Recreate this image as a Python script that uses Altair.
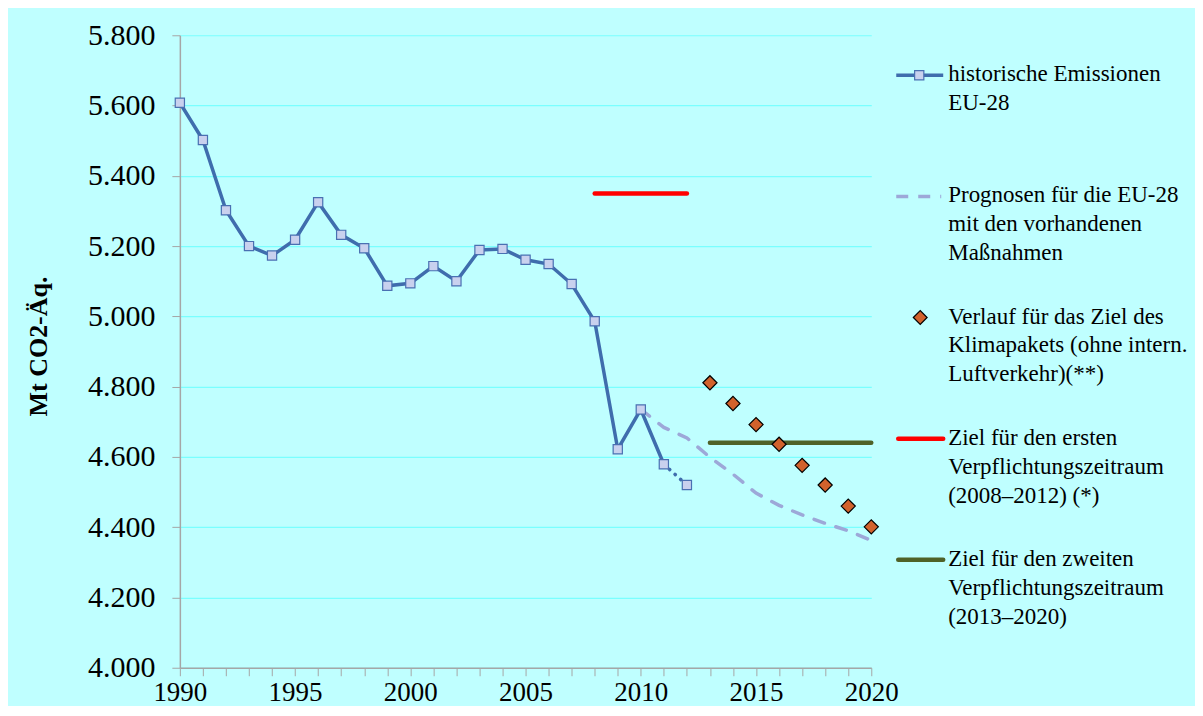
import altair as alt
import pandas as pd

# ---------------- data ----------------
hist_years = list(range(1990, 2013))
hist_values = [5608, 5502, 5302, 5200, 5173, 5218, 5325, 5232, 5194, 5087, 5094,
               5143, 5100, 5189, 5192, 5161, 5149, 5092, 4986, 4622, 4735, 4579, 4520]
hist_last_solid = 2011  # 2011-2012 drawn dotted (provisional)

proj_years = list(range(2010, 2021))
proj_values = [4735, 4684, 4654, 4599, 4551, 4497, 4462, 4435, 4411, 4390, 4362]

path_years = list(range(2013, 2021))
path_values = [4811, 4752, 4692, 4636, 4576, 4520, 4460, 4401]

target_names = ["erster", "zweiter"]
target_start = [2008, 2013]
target_end = [2012, 2020]
target_values = [5350, 4640]

legend_labels = [
    "historische Emissionen\nEU-28",
    "Prognosen für die EU-28\nmit den vorhandenen\nMaßnahmen",
    "Verlauf für das Ziel des\nKlimapakets (ohne intern.\nLuftverkehr)(**)",
    "Ziel für den ersten\nVerpflichtungszeitraum\n(2008–2012) (*)",
    "Ziel für den zweiten\nVerpflichtungszeitraum\n(2013–2020)",
]

y_ticks = list(range(4000, 5801, 200))
x_ticks = list(range(1990, 2021))

# ---------------- styling ----------------
FONT = "Liberation Serif"
BLUE = "#3F6DAD"
LAV = "#9DA8D8"
ORANGE = "#D2622C"
RED = "#FF0000"
GREEN = "#4F6228"
BG = "#BFFFFF"
GRID = "#7AFFFF"
AXIS = "#A6A6A6"

W, H = 692, 633

hist_df = pd.DataFrame({"year": hist_years, "value": hist_values})
solid_df = hist_df[hist_df.year <= hist_last_solid]
dotted_df = hist_df[hist_df.year >= hist_last_solid]
proj_df = pd.DataFrame({"year": proj_years, "value": proj_values})
path_df = pd.DataFrame({"year": path_years, "value": path_values})
target_df = pd.DataFrame({"name": target_names, "year": target_start,
                          "end": target_end, "value": target_values})
legend_df = pd.DataFrame({"idx": list(range(len(legend_labels))), "label": legend_labels})

xscale = alt.Scale(domain=[1990, 2020], nice=False, zero=False)
yscale = alt.Scale(domain=[4000, 5800], nice=False, zero=False)

x_axis = alt.Axis(values=x_ticks, format="d",
                  labelExpr="datum.value % 5 == 0 ? datum.label : ''",
                  title=None, grid=False, labelFont=FONT, labelFontSize=27,
                  labelColor="black", labelFlush=False, labelOverlap=False,
                  tickSize=8, tickColor=AXIS, domainColor=AXIS, domainWidth=1.5,
                  labelPadding=4)
y_axis = alt.Axis(values=y_ticks,
                  labelExpr="replace(format(datum.value, ',.0f'), ',', '.')",
                  title="Mt CO2-Äq.", titleFont=FONT, titleFontSize=26,
                  titleFontWeight="bold", titleColor="black", titleAngle=270,
                  titleX=-141, titleY=311, titleAlign="center", titleBaseline="middle",
                  labelFont=FONT, labelFontSize=30, labelColor="black",
                  labelFlush=False, labelOverlap=False, labelPadding=17,
                  tickSize=8, tickColor=AXIS, domainColor=AXIS, domainWidth=1.5,
                  grid=True, gridColor=GRID, gridWidth=1.2)

x_enc = alt.X("year:Q", scale=xscale, axis=x_axis)
y_enc = alt.Y("value:Q", scale=yscale, axis=y_axis)

hist_line = alt.Chart(solid_df).mark_line(color=BLUE, strokeWidth=3.5).encode(x=x_enc, y=y_enc)
hist_dot = alt.Chart(dotted_df).mark_line(color=BLUE, strokeWidth=3.5, strokeDash=[0.5, 7],
                                          strokeCap="round").encode(x=x_enc, y=y_enc)
proj_line = alt.Chart(proj_df).mark_line(color=LAV, strokeWidth=3.5, strokeDash=[11, 12],
                                         strokeCap="round").encode(x=x_enc, y=y_enc)
hist_pts = alt.Chart(hist_df).mark_point(shape="square", filled=True, fill="#C9D1EE",
                                         stroke="#4A70B2", strokeWidth=1.2, size=85,
                                         opacity=1).encode(x=x_enc, y=y_enc)
targets = alt.Chart(target_df).mark_rule(strokeWidth=4.5, strokeCap="round").encode(
    x=x_enc, x2="end:Q", y=y_enc,
    color=alt.Color("name:N", scale=alt.Scale(domain=target_names, range=[RED, GREEN]),
                    legend=None))
path_pts = alt.Chart(path_df).mark_point(shape="diamond", filled=True, fill=ORANGE,
                                         stroke="black", strokeWidth=1.2, size=200,
                                         opacity=1).encode(x=x_enc, y=y_enc)

main = alt.layer(hist_line, hist_dot, proj_line, hist_pts, targets, path_pts)

# ---------------- legend (drawn beside the plot) ----------------
ly = alt.Y("idx:Q", scale=alt.Scale(domain=[0, 4], range=[40, 525]), axis=None)
base_leg = alt.Chart(legend_df)

leg_hist_line = base_leg.transform_filter(alt.datum.idx == 0).mark_rule(
    color=BLUE, strokeWidth=3.5).encode(x=alt.value(717), x2=alt.value(764), y=ly)
leg_hist_pt = base_leg.transform_filter(alt.datum.idx == 0).mark_point(
    shape="square", filled=True, fill="#C9D1EE", stroke="#4A70B2", strokeWidth=1.2,
    size=85, opacity=1).encode(x=alt.value(740), y=ly)
leg_proj = base_leg.transform_filter(alt.datum.idx == 1).mark_rule(
    color=LAV, strokeWidth=3.5, strokeDash=[12, 10]).encode(
    x=alt.value(717), x2=alt.value(762), y=ly)
leg_path = base_leg.transform_filter(alt.datum.idx == 2).mark_point(
    shape="diamond", filled=True, fill=ORANGE, stroke="black", strokeWidth=1.2,
    size=190, opacity=1).encode(x=alt.value(741), y=ly)
leg_red = base_leg.transform_filter(alt.datum.idx == 3).mark_rule(
    color=RED, strokeWidth=4.5, strokeCap="round").encode(
    x=alt.value(719), x2=alt.value(764), y=ly)
leg_green = base_leg.transform_filter(alt.datum.idx == 4).mark_rule(
    color=GREEN, strokeWidth=4.5, strokeCap="round").encode(
    x=alt.value(719), x2=alt.value(764), y=ly)
leg_text = base_leg.mark_text(align="left", baseline="top", dy=-12, lineBreak="\n",
                              font=FONT, fontSize=23, lineHeight=29, color="black").encode(
    x=alt.value(769), y=ly, text="label:N")

legend = alt.layer(leg_hist_line, leg_hist_pt, leg_proj, leg_path, leg_red, leg_green, leg_text)

chart = alt.layer(main, legend).resolve_scale(y="independent").properties(
    width=W, height=H, background=BG,
    padding={"left": 18, "top": 12, "right": 7, "bottom": 0},
).configure_view(stroke=None)

chart.save("out.html", embed_options={"renderer": "svg", "actions": False})
